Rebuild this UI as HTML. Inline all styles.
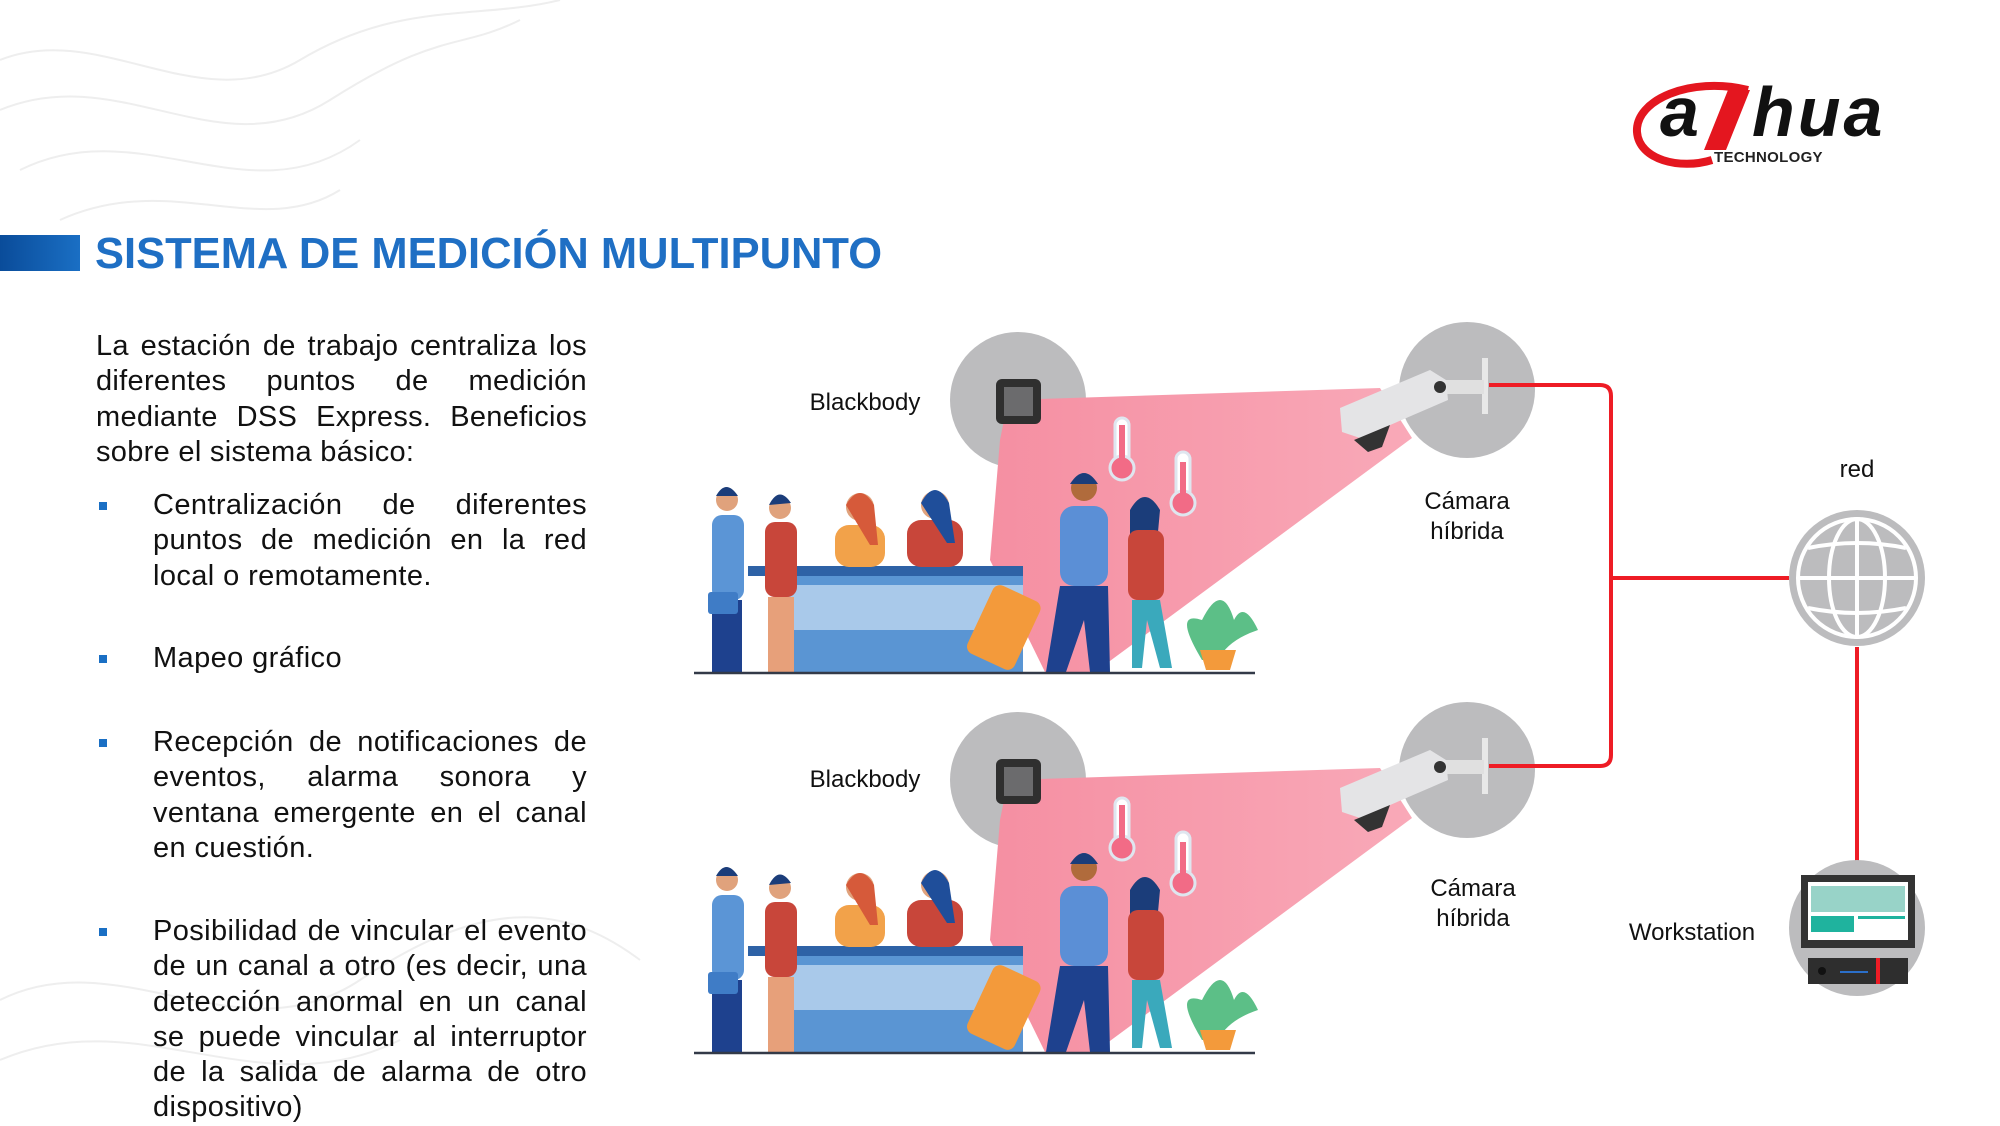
<!DOCTYPE html>
<html><head><meta charset="utf-8">
<style>
html,body{margin:0;padding:0;}
body{width:2000px;height:1125px;position:relative;background:#fff;overflow:hidden;font-family:"Liberation Sans",sans-serif;color:#111;}
.t{position:absolute;}
.p{position:absolute;left:96px;width:491px;font-size:29px;line-height:35.3px;text-align:justify;letter-spacing:0.3px;}
.b{position:absolute;left:153px;width:434px;font-size:29px;line-height:35.3px;text-align:justify;letter-spacing:0.4px;}
.sq{position:absolute;left:99px;width:8px;height:8px;background:#1a6fc4;}
.lbl{position:absolute;font-size:24px;line-height:30px;text-align:center;}
</style></head><body>
<svg width="2000" height="1125" style="position:absolute;left:0;top:0">
<defs>
<linearGradient id="beam" x1="0" x2="1" y1="0" y2="0">
<stop offset="0" stop-color="#f58fa2"/><stop offset="1" stop-color="#f9a9b8"/></linearGradient>
<g id="scene">
<circle cx="1018" cy="400" r="68" fill="#bcbcbe"/>
<polygon points="1008,400 1380,388 1412,438 1095,672 1045,672 990,560 1000,440" fill="url(#beam)"/>
<rect x="996" y="379" width="45" height="45" rx="6" fill="#2f2f2f"/>
<rect x="1004" y="387" width="29" height="29" fill="#6b6b6d"/>
<circle cx="1467" cy="390" r="68" fill="#bcbcbe"/>
<rect x="1482" y="358" width="6" height="56" fill="#e8e8e8"/>
<rect x="1440" y="380" width="44" height="14" fill="#e0e0e0"/>
<polygon points="1340,408 1430,370 1446,380 1448,400 1360,438 1342,432" fill="#e4e4e6"/>
<polygon points="1354,440 1390,425 1382,447 1368,452" fill="#333"/>
<circle cx="1440" cy="387" r="6" fill="#333"/>
<rect x="1115" y="418" width="14" height="48" rx="7" fill="#fff" stroke="#dfe6ef" stroke-width="3"/>
<circle cx="1122" cy="468" r="12" fill="#f26b86" stroke="#dfe6ef" stroke-width="3"/>
<rect x="1119" y="425" width="6" height="40" fill="#f26b86"/>
<rect x="1176" y="452" width="14" height="48" rx="7" fill="#fff" stroke="#dfe6ef" stroke-width="3"/>
<circle cx="1183" cy="503" r="12" fill="#f26b86" stroke="#dfe6ef" stroke-width="3"/>
<rect x="1180" y="462" width="6" height="38" fill="#f26b86"/>
<rect x="780" y="575" width="243" height="97" fill="#5a95d3"/>
<rect x="780" y="585" width="243" height="45" fill="#a9c9ea"/>
<rect x="748" y="566" width="275" height="10" fill="#2e62a6"/>
<rect x="835" y="525" width="50" height="42" rx="14" fill="#f2a24a"/>
<circle cx="860" cy="507" r="14" fill="#e0a27c"/><path d="M846,505 q14,-24 28,0 l4,40 -8,0z" fill="#d65a3a"/>
<rect x="907" y="520" width="56" height="47" rx="14" fill="#c8463a"/>
<circle cx="935" cy="505" r="14" fill="#e0a27c"/><path d="M921,503 q14,-26 28,0 l6,40 -8,0z" fill="#1f4e9a"/>
<circle cx="727" cy="500" r="11" fill="#e0a27c"/><path d="M716,496 q10,-18 22,0z" fill="#1b3d7a"/>
<rect x="712" y="515" width="32" height="85" rx="10" fill="#5b95d6"/>
<rect x="712" y="600" width="30" height="72" fill="#1e418e"/>
<rect x="708" y="592" width="30" height="22" rx="3" fill="#3f7cc6"/>
<circle cx="780" cy="508" r="11" fill="#e0a27c"/><path d="M769,505 q10,-20 22,-2z" fill="#1b3d7a"/>
<rect x="765" y="522" width="32" height="75" rx="10" fill="#c8463a"/>
<rect x="768" y="597" width="26" height="75" fill="#e7a07a"/>
<circle cx="1084" cy="488" r="13" fill="#b06b3c"/><path d="M1070,484 q14,-22 28,0z" fill="#1b3d7a"/>
<rect x="1060" y="506" width="48" height="80" rx="14" fill="#5b8fd6"/>
<polygon points="1060,586 1108,586 1110,672 1090,672 1084,620 1066,672 1046,672" fill="#1e418e"/>
<rect x="978" y="590" width="52" height="75" rx="8" fill="#f39a3b" transform="rotate(25 1004 627)"/>
<circle cx="1145" cy="512" r="12" fill="#e0a27c"/><path d="M1130,510 q15,-26 30,0 l-2,22 -28,6z" fill="#1b3d7a"/>
<rect x="1128" y="530" width="36" height="70" rx="10" fill="#c8463a"/>
<polygon points="1132,600 1160,600 1172,668 1160,668 1147,620 1142,668 1132,668" fill="#3aa9bc"/>
<path d="M1202,660 q-30,-50 0,-40 q20,-40 32,0 q10,-20 24,10 q-30,10 -40,30z" fill="#5cbf87"/>
<path d="M1200,650 h36 l-6,20 h-24z" fill="#f39a3b"/>
<line x1="694" y1="673" x2="1255" y2="673" stroke="#333a48" stroke-width="2.5"/>
</g>
</defs>
<g fill="none" stroke="#eeeeee" stroke-width="2">
<path d="M0,60 C100,20 200,120 300,60 S480,20 560,0"/>
<path d="M0,110 C120,60 220,170 330,100 S460,50 520,20"/>
<path d="M20,170 C140,110 250,220 360,140"/>
<path d="M60,220 C170,170 260,240 340,190"/>
<path d="M0,1000 C120,940 240,1060 360,980 S560,900 640,960"/>
<path d="M0,1060 C140,1000 260,1110 400,1040"/>
</g>
<use href="#scene"/>
<use href="#scene" transform="translate(0,380)"/>
<g fill="none" stroke="#ee1c25" stroke-width="4">
<path d="M1489,385 H1600 Q1611,385 1611,396 V755 Q1611,766 1600,766 H1489"/>
<path d="M1611,578 H1789"/>
<path d="M1857,647 V874"/>
</g>
<circle cx="1857" cy="578" r="68" fill="#bcbcbe"/>
<g fill="none" stroke="#fff" stroke-width="4">
<circle cx="1857" cy="578" r="59"/>
<ellipse cx="1857" cy="578" rx="28" ry="59"/>
<line x1="1857" y1="519" x2="1857" y2="637"/>
<line x1="1798" y1="578" x2="1916" y2="578"/>
<path d="M1808,548 Q1857,538 1906,548"/>
<path d="M1808,608 Q1857,618 1906,608"/>
</g>
<circle cx="1857" cy="928" r="68" fill="#bcbcbe"/>
<rect x="1801" y="875" width="114" height="73" fill="#333"/>
<rect x="1808" y="882" width="100" height="58" fill="#fff"/>
<rect x="1811" y="886" width="94" height="26" fill="#98d3c8"/>
<rect x="1811" y="916" width="43" height="16" fill="#1fb39e"/>
<rect x="1858" y="916" width="47" height="3" fill="#1fb39e"/>
<rect x="1808" y="958" width="100" height="26" fill="#2e2e2e"/>
<rect x="1876" y="958" width="4" height="26" fill="#ee1c25"/>
<circle cx="1822" cy="971" r="4" fill="#111"/>
<line x1="1840" y1="972" x2="1868" y2="972" stroke="#2b6fc9" stroke-width="2"/>
<path d="M1748,90 C1690,76 1635,100 1637,132 C1639,160 1680,170 1712,160" fill="none" stroke="#e4161f" stroke-width="8"/>
<polygon points="1728,90 1750,90 1726,150 1704,150" fill="#e4161f"/>
</svg>
<div class="t" style="left:1660px;top:74px;font-size:70px;font-weight:bold;font-style:italic;line-height:76px;color:#111;">a</div>
<div class="t" style="left:1752px;top:74px;font-size:70px;font-weight:bold;font-style:italic;letter-spacing:3px;line-height:76px;color:#111;">hua</div>
<div class="t" style="left:1714px;top:149px;font-size:15px;font-weight:bold;color:#222;letter-spacing:0.3px">TECHNOLOGY</div>
<div class="t" style="left:0;top:235px;width:80px;height:36px;background:linear-gradient(90deg,#0a4c9a,#1a6fc4)"></div>
<div class="t" style="left:95px;top:229px;font-size:43.5px;font-weight:bold;color:#1f6fc4;line-height:50px;">SISTEMA DE MEDICIÓN MULTIPUNTO</div>

<div class="p" style="top:329px">La estación de trabajo centraliza los diferentes puntos de medición mediante DSS Express. Beneficios sobre el sistema básico:</div>
<div class="sq" style="top:502px"></div>
<div class="b" style="top:488px;text-align-last:justify">Centralización de diferentes puntos de medición en la red</div>
<div class="b" style="top:558.6px">local o remotamente.</div>
<div class="sq" style="top:655px"></div>
<div class="b" style="top:641px">Mapeo gráfico</div>
<div class="sq" style="top:739px"></div>
<div class="b" style="top:725px">Recepción de notificaciones de eventos, alarma sonora y ventana emergente en el canal en cuestión.</div>
<div class="sq" style="top:928px"></div>
<div class="b" style="top:914px">Posibilidad de vincular el evento de un canal a otro (es decir, una detección anormal en un canal se puede vincular al interruptor de la salida de alarma de otro dispositivo)</div>

<div class="lbl" style="left:790px;top:388px;width:150px">Blackbody</div>
<div class="lbl" style="left:790px;top:765px;width:150px">Blackbody</div>
<div class="lbl" style="left:1392px;top:487px;width:150px">Cámara<br>híbrida</div>
<div class="lbl" style="left:1398px;top:874px;width:150px">Cámara<br>híbrida</div>
<div class="lbl" style="left:1807px;top:455px;width:100px">red</div>
<div class="lbl" style="left:1612px;top:918px;width:160px">Workstation</div>
</body></html>
